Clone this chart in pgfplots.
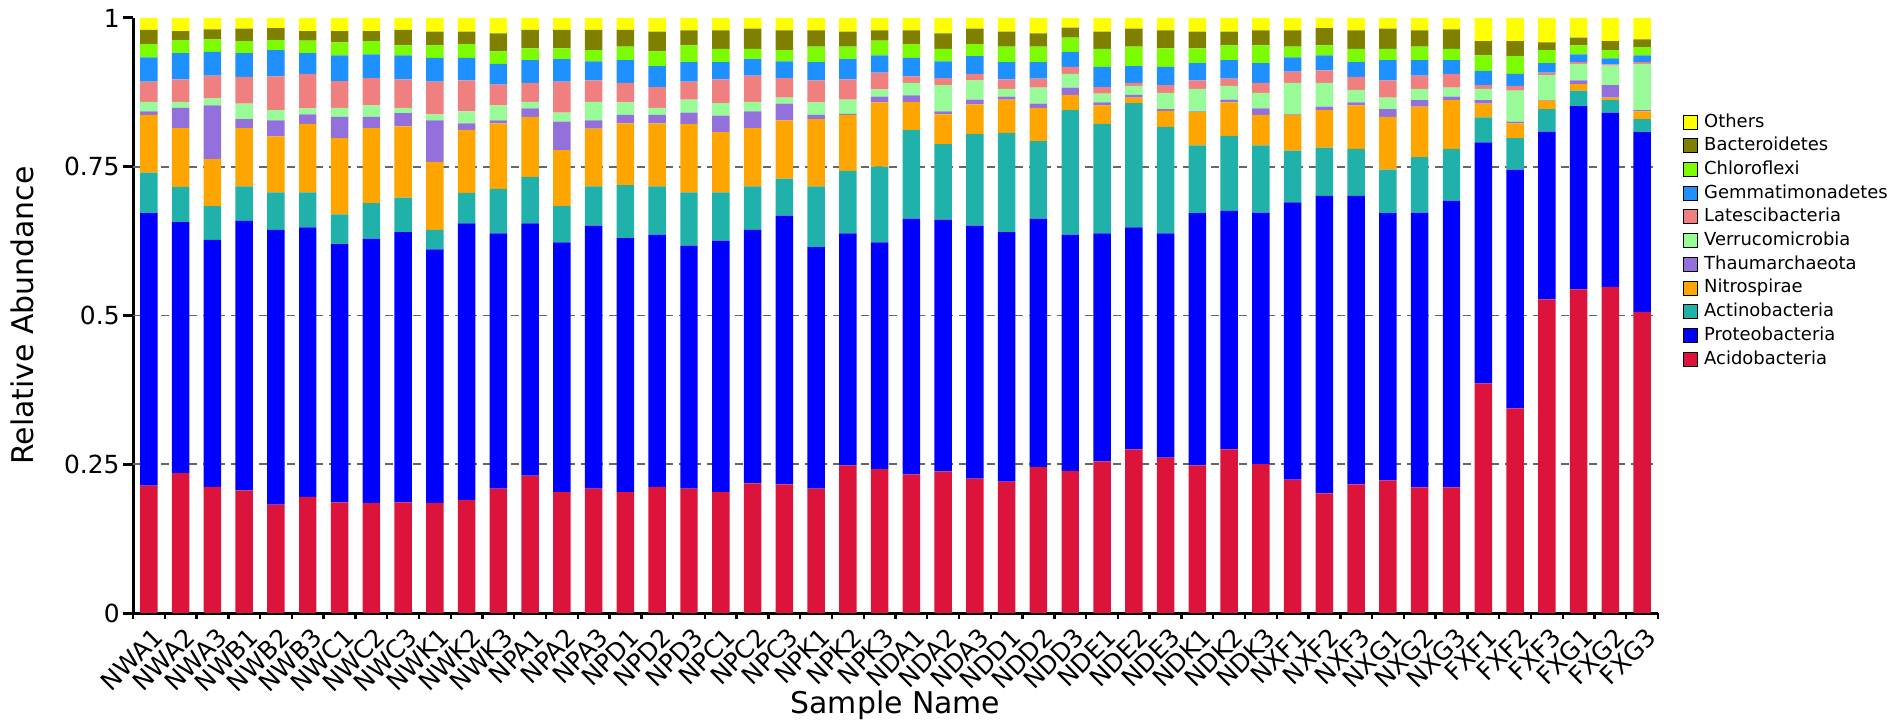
\documentclass[border=0pt]{standalone}
\usepackage{fontspec}
\setmainfont{DejaVu Sans}
\usepackage{pgfplots}
\usepackage{pgfplotstable}
\pgfplotsset{compat=1.18}
\definecolor{cAcido}{HTML}{DC143C}
\definecolor{cProteo}{HTML}{0000FF}
\definecolor{cActino}{HTML}{20B2AA}
\definecolor{cNitro}{HTML}{FFA500}
\definecolor{cThaum}{HTML}{9370DB}
\definecolor{cVerru}{HTML}{98FB98}
\definecolor{cLatesc}{HTML}{F08080}
\definecolor{cGemma}{HTML}{1E90FF}
\definecolor{cChloro}{HTML}{7CFC00}
\definecolor{cBacter}{HTML}{808000}
\definecolor{cOther}{HTML}{FFFF00}
\pgfplotstableread{
x A P Ac N T V L G C B O
0 0.214 0.458 0.068 0.097 0.006 0.016 0.034 0.041 0.022 0.024 0.020
1 0.235 0.422 0.059 0.099 0.034 0.010 0.038 0.044 0.022 0.015 0.022
2 0.212 0.415 0.057 0.079 0.090 0.012 0.038 0.040 0.021 0.017 0.019
3 0.206 0.453 0.058 0.098 0.015 0.026 0.045 0.040 0.020 0.021 0.018
4 0.182 0.462 0.063 0.094 0.027 0.017 0.057 0.044 0.017 0.020 0.017
5 0.195 0.453 0.059 0.115 0.016 0.010 0.058 0.035 0.021 0.016 0.022
6 0.186 0.434 0.050 0.128 0.036 0.015 0.045 0.043 0.022 0.019 0.022
7 0.185 0.444 0.060 0.126 0.019 0.019 0.046 0.040 0.022 0.017 0.022
8 0.186 0.454 0.058 0.120 0.022 0.009 0.048 0.040 0.017 0.026 0.020
9 0.185 0.426 0.033 0.114 0.070 0.010 0.055 0.040 0.021 0.023 0.023
10 0.190 0.465 0.051 0.106 0.011 0.020 0.052 0.038 0.023 0.021 0.023
11 0.209 0.429 0.075 0.110 0.005 0.025 0.035 0.035 0.021 0.030 0.026
12 0.231 0.424 0.078 0.101 0.014 0.011 0.032 0.038 0.020 0.031 0.020
13 0.203 0.420 0.061 0.094 0.048 0.015 0.052 0.038 0.018 0.031 0.020
14 0.209 0.442 0.066 0.097 0.014 0.031 0.036 0.032 0.019 0.034 0.020
15 0.203 0.427 0.089 0.104 0.014 0.021 0.033 0.038 0.023 0.028 0.020
16 0.212 0.424 0.081 0.106 0.014 0.012 0.035 0.035 0.025 0.033 0.023
17 0.209 0.408 0.090 0.115 0.019 0.022 0.030 0.033 0.028 0.025 0.021
18 0.203 0.423 0.081 0.101 0.028 0.021 0.040 0.029 0.022 0.031 0.021
19 0.218 0.426 0.073 0.098 0.028 0.016 0.044 0.028 0.017 0.034 0.018
20 0.216 0.452 0.062 0.098 0.028 0.010 0.033 0.028 0.019 0.033 0.021
21 0.209 0.406 0.102 0.113 0.007 0.021 0.037 0.031 0.026 0.027 0.021
22 0.248 0.390 0.105 0.094 0.002 0.024 0.034 0.034 0.021 0.025 0.023
23 0.242 0.381 0.127 0.108 0.010 0.012 0.028 0.029 0.025 0.017 0.021
24 0.233 0.430 0.149 0.047 0.011 0.021 0.011 0.031 0.023 0.023 0.021
25 0.238 0.423 0.127 0.050 0.005 0.044 0.012 0.028 0.021 0.026 0.026
26 0.226 0.425 0.154 0.050 0.008 0.032 0.011 0.030 0.020 0.026 0.018
27 0.221 0.419 0.167 0.056 0.005 0.013 0.016 0.029 0.026 0.025 0.023
28 0.245 0.418 0.130 0.056 0.007 0.027 0.015 0.028 0.026 0.022 0.026
29 0.239 0.397 0.209 0.026 0.012 0.023 0.012 0.025 0.024 0.017 0.016
30 0.255 0.383 0.184 0.031 0.005 0.015 0.011 0.034 0.030 0.029 0.023
31 0.275 0.373 0.209 0.009 0.005 0.015 0.005 0.028 0.033 0.030 0.018
32 0.261 0.377 0.179 0.027 0.003 0.027 0.013 0.031 0.031 0.030 0.021
33 0.248 0.424 0.114 0.056 0.001 0.038 0.014 0.029 0.025 0.028 0.023
34 0.275 0.401 0.126 0.056 0.005 0.023 0.012 0.031 0.025 0.023 0.023
35 0.250 0.423 0.113 0.051 0.011 0.026 0.017 0.033 0.030 0.025 0.021
36 0.224 0.466 0.087 0.060 0.001 0.053 0.019 0.024 0.018 0.027 0.021
37 0.201 0.500 0.081 0.063 0.006 0.040 0.021 0.025 0.017 0.029 0.017
38 0.216 0.485 0.079 0.073 0.005 0.021 0.022 0.025 0.022 0.031 0.021
39 0.223 0.449 0.073 0.089 0.013 0.019 0.029 0.034 0.019 0.034 0.018
40 0.211 0.462 0.093 0.085 0.011 0.019 0.022 0.026 0.023 0.027 0.021
41 0.211 0.482 0.087 0.082 0.006 0.015 0.023 0.023 0.019 0.033 0.019
42 0.386 0.405 0.042 0.023 0.006 0.019 0.006 0.024 0.026 0.024 0.039
43 0.344 0.401 0.053 0.025 0.003 0.052 0.008 0.020 0.030 0.025 0.039
44 0.527 0.282 0.038 0.014 0.001 0.042 0.004 0.016 0.022 0.013 0.041
45 0.544 0.308 0.026 0.011 0.006 0.028 0.003 0.013 0.015 0.013 0.033
46 0.548 0.293 0.021 0.004 0.021 0.033 0.002 0.010 0.014 0.015 0.039
47 0.506 0.302 0.022 0.013 0.002 0.078 0.003 0.011 0.014 0.013 0.036
}\datatable

\begin{document}
\begin{tikzpicture}
\path[use as bounding box] (0,0) rectangle (951bp,361bp);
\begin{axis}[
  at={(66.5bp,54.5bp)}, anchor=south west,
  scale only axis, width=762.5bp, height=297.5bp,
  ybar stacked, bar width=0.55,
  xmin=-0.5, xmax=47.5, ymin=0, ymax=1,
  axis x line*=bottom, axis y line*=left,
  axis line style={line width=1.5bp, black},
  tick align=outside,
  major tick length=5bp, minor tick length=3bp,
  xtick={0,...,47},
  xticklabels={NWA1,NWA2,NWA3,NWB1,NWB2,NWB3,NWC1,NWC2,NWC3,NWK1,NWK2,NWK3,NPA1,NPA2,NPA3,NPD1,NPD2,NPD3,NPC1,NPC2,NPC3,NPK1,NPK2,NPK3,NDA1,NDA2,NDA3,NDD1,NDD2,NDD3,NDE1,NDE2,NDE3,NDK1,NDK2,NDK3,NXF1,NXF2,NXF3,NXG1,NXG2,NXG3,FXF1,FXF2,FXF3,FXG1,FXG2,FXG3},
  major x tick style={draw=none},
  minor xtick={-0.5,0.5,...,47.5},
  minor x tick style={line width=1.2bp, black},
  xticklabel style={rotate=45, anchor=north east, inner sep=0pt, font=\fontsize{12.5}{14}\selectfont, yshift=-2bp},
  ytick={0,0.25,0.5,0.75,1},
  yticklabels={0,0.25,0.5,0.75,1},
  major y tick style={line width=1.5bp, black},
  yticklabel style={font=\fontsize{12.5}{14}\selectfont, inner sep=1.5bp},
  extra y ticks={0.25,0.5,0.75},
  extra y tick labels={},
  extra y tick style={grid=major, major tick length=0pt},
  major grid style={dash pattern=on 4bp off 3bp, black!60, line width=0.8bp},
  xlabel={Sample Name},
  ylabel={Relative Abundance},
  every axis x label/.style={at={(axis description cs:0.5,-0.1546)}, anchor=center, font=\fontsize{15}{17}\selectfont},
  every axis y label/.style={at={(axis description cs:-0.0728,0.5)}, rotate=90, anchor=center, font=\fontsize{15}{17}\selectfont},
  reverse legend,
  legend image code/.code={\draw[#1,/tikz/.cd] (0bp,-3.5bp) rectangle (7bp,3.5bp);},
  legend style={at={(1.0164,0.841)}, anchor=north west, draw=none, fill=none,
    font=\fontsize{9}{10}\selectfont, row sep=2.85bp, column sep=3bp, inner sep=0pt,
    nodes={inner sep=0pt, text height=7bp, text depth=2bp}, cells={anchor=west}},
]
\addplot[fill=cAcido, draw=none] table[x=x,y=A]{\datatable};
\addplot[fill=cProteo, draw=none] table[x=x,y=P]{\datatable};
\addplot[fill=cActino, draw=none] table[x=x,y=Ac]{\datatable};
\addplot[fill=cNitro, draw=none] table[x=x,y=N]{\datatable};
\addplot[fill=cThaum, draw=none] table[x=x,y=T]{\datatable};
\addplot[fill=cVerru, draw=none] table[x=x,y=V]{\datatable};
\addplot[fill=cLatesc, draw=none] table[x=x,y=L]{\datatable};
\addplot[fill=cGemma, draw=none] table[x=x,y=G]{\datatable};
\addplot[fill=cChloro, draw=none] table[x=x,y=C]{\datatable};
\addplot[fill=cBacter, draw=none] table[x=x,y=B]{\datatable};
\addplot[fill=cOther, draw=none] table[x=x,y=O]{\datatable};
\legend{Acidobacteria,Proteobacteria,Actinobacteria,Nitrospirae,Thaumarchaeota,Verrucomicrobia,Latescibacteria,Gemmatimonadetes,Chloroflexi,Bacteroidetes,Others}
\end{axis}
\end{tikzpicture}
\end{document}
